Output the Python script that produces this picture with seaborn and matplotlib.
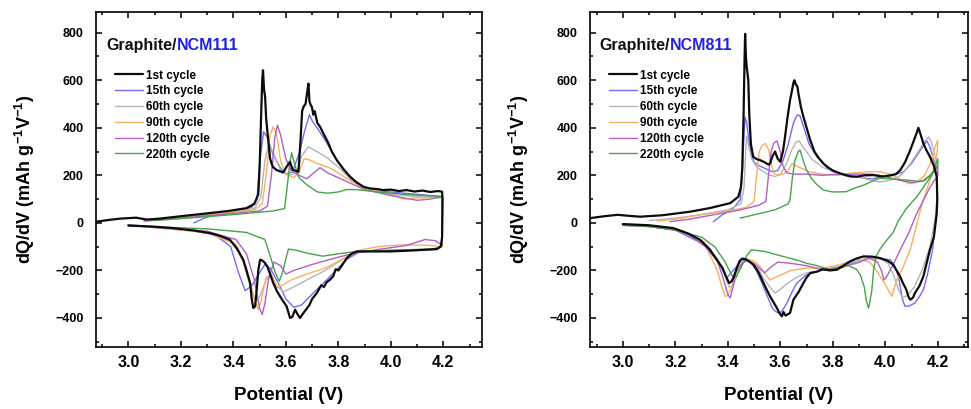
import matplotlib
matplotlib.use("Agg")
import matplotlib.pyplot as plt
from matplotlib.ticker import MultipleLocator
import seaborn as sns

# cycle labels + colours used in both panels
cycles = ["1st cycle", "15th cycle", "60th cycle", "90th cycle", "120th cycle", "220th cycle"]
colors = ["#0c0c0c", "#6e6ef0", "#b5b5b5", "#f6b062", "#b35fc4", "#48a348"]
widths = [1.6, 1.0, 1.0, 1.0, 1.0, 1.0]

x_ticks = [3.0, 3.2, 3.4, 3.6, 3.8, 4.0, 4.2]
y_ticks = [-400, -200, 0, 200, 400, 600, 800]

# ---------------- Graphite/NCM111 (charge then discharge) ----------------
v111_1st = [2.877, 2.93, 2.97, 3.0, 3.03, 3.07, 3.12, 3.2, 3.3, 3.38, 3.45, 3.48, 3.495, 3.50, 3.505, 3.51, 3.513,
            3.517, 3.521, 3.525, 3.53, 3.54, 3.55, 3.565, 3.59, 3.605, 3.616, 3.625, 3.635, 3.648, 3.655, 3.662,
            3.667, 3.675, 3.68, 3.686, 3.69, 3.695, 3.699, 3.705, 3.71, 3.72, 3.73, 3.743, 3.76, 3.775, 3.794,
            3.82, 3.845, 3.87, 3.895, 3.92, 3.95, 3.97, 4.0, 4.03, 4.06, 4.09, 4.12, 4.15, 4.18, 4.195,
            4.197, 4.195, 4.19, 4.175, 4.1, 4.0, 3.93, 3.87, 3.85, 3.832, 3.81, 3.8, 3.79, 3.78, 3.768, 3.755,
            3.745, 3.735, 3.718, 3.70, 3.69, 3.68, 3.667, 3.66, 3.654, 3.645, 3.635, 3.625, 3.616, 3.603, 3.59,
            3.578, 3.565, 3.552, 3.54, 3.53, 3.521, 3.51, 3.502, 3.495, 3.489, 3.483, 3.476, 3.47, 3.464, 3.45,
            3.438, 3.415, 3.387, 3.35, 3.311, 3.25, 3.171, 3.1, 3.0]
q111_1st = [5, 13, 18, 20, 22, 14, 18, 28, 40, 50, 62, 80, 120, 230, 420, 600, 642,
            560, 530, 440, 380, 270, 236, 222, 212, 240, 257, 225, 220, 215, 330, 470,
            488, 500, 540, 586, 510, 495, 488, 455, 470, 420, 405, 376, 340, 300, 264,
            225, 194, 170, 152, 145, 142, 138, 140, 134, 138, 132, 136, 130, 134, 131,
            100, -60, -100, -110, -115, -120, -120, -120, -130, -148, -185, -200, -195, -225, -239, -250,
            -270, -262, -295, -320, -345, -360, -379, -390, -400, -385, -365, -395, -400, -351, -330,
            -309, -285, -253, -215, -185, -169, -158, -155, -200, -281, -351, -358, -320, -253, -200,
            -155, -110, -71, -55, -43, -32, -22, -16, -11]

v111_15th = [3.25, 3.3, 3.4, 3.47, 3.49, 3.50, 3.515, 3.53, 3.55, 3.58, 3.60, 3.625, 3.65, 3.67, 3.69, 3.70,
             3.74, 3.80, 3.85, 3.90, 3.95, 4.05, 4.15, 4.195,
             4.195, 4.17, 4.0, 3.88, 3.83, 3.76, 3.70, 3.66, 3.63, 3.60, 3.57, 3.54, 3.52, 3.50, 3.47, 3.445,
             3.42, 3.39, 3.33, 3.2, 3.0]
q111_15th = [0, 25, 45, 65, 100, 250, 383, 360, 290, 230, 205, 215, 290, 380, 455, 430,
             365, 255, 185, 150, 135, 125, 115, 112,
             -95, -112, -118, -122, -155, -235, -300, -345, -355, -320, -250, -190, -175, -210, -265, -285,
             -210, -100, -50, -25, -8]

v111_60th = [3.06, 3.2, 3.35, 3.48, 3.505, 3.52, 3.535, 3.55, 3.58, 3.61, 3.64, 3.66, 3.685, 3.71, 3.75, 3.8,
             3.85, 3.9, 4.0, 4.1, 4.195,
             4.195, 4.16, 4.0, 3.88, 3.82, 3.75, 3.68, 3.62, 3.59, 3.565, 3.545, 3.525, 3.50, 3.485, 3.47,
             3.44, 3.40, 3.3, 3.0]
q111_60th = [8, 22, 40, 60, 110, 260, 335, 300, 220, 200, 210, 280, 320, 305, 280, 235,
             180, 150, 120, 110, 105,
             -95, -110, -115, -120, -150, -200, -240, -275, -290, -265, -220, -240, -310, -330, -290,
             -170, -85, -40, -10]

v111_90th = [3.06, 3.2, 3.35, 3.48, 3.51, 3.525, 3.54, 3.552, 3.565, 3.58, 3.60, 3.63, 3.65, 3.67, 3.69, 3.72,
             3.77, 3.85, 3.9, 4.0, 4.05, 4.1, 4.195,
             4.195, 4.15, 4.05, 3.95, 3.88, 3.82, 3.75, 3.68, 3.62, 3.59, 3.565, 3.545, 3.525, 3.505, 3.495,
             3.48, 3.45, 3.41, 3.3, 3.0]
q111_90th = [8, 20, 38, 55, 80, 200, 370, 404, 370, 260, 205, 190, 215, 270, 265, 250,
             230, 175, 145, 120, 100, 105, 108,
             -100, -95, -92, -100, -115, -150, -190, -215, -240, -260, -270, -215, -230, -330, -365,
             -320, -190, -90, -40, -10]

v111_120th = [3.06, 3.2, 3.35, 3.5, 3.53, 3.545, 3.558, 3.568, 3.58, 3.60, 3.62, 3.65, 3.68, 3.70, 3.73, 3.76,
              3.80, 3.85, 3.9, 4.0, 4.1, 4.15, 4.195,
              4.195, 4.17, 4.13, 4.06, 3.95, 3.85, 3.78, 3.70, 3.63, 3.60, 3.58, 3.555, 3.535, 3.52, 3.51,
              3.50, 3.48, 3.45, 3.41, 3.3, 3.0]
q111_120th = [8, 20, 35, 50, 70, 200, 360, 411, 370, 270, 220, 200, 185, 205, 232, 210,
              190, 165, 140, 115, 95, 100, 110,
              -95, -75, -70, -95, -112, -130, -150, -175, -200, -215, -180, -165, -230, -340, -385,
              -360, -240, -130, -70, -35, -10]

v111_220th = [3.1, 3.25, 3.4, 3.55, 3.595, 3.605, 3.615, 3.622, 3.635, 3.65, 3.68, 3.72, 3.76, 3.80, 3.83, 3.87,
              3.95, 4.05, 4.195,
              4.195, 4.17, 4.0, 3.87, 3.80, 3.74, 3.68, 3.64, 3.61, 3.60, 3.59, 3.575, 3.56, 3.545, 3.52,
              3.45, 3.3, 3.0]
q111_220th = [10, 22, 35, 50, 60, 150, 250, 295, 240, 190, 160, 130, 125, 130, 140, 140,
              130, 120, 110,
              -95, -110, -115, -120, -130, -140, -127, -115, -110, -150, -200, -245, -210, -155, -70,
              -40, -25, -12]

# ---------------- Graphite/NCM811 (charge then discharge) ----------------
v811_1st = [2.875, 2.93, 2.98, 3.02, 3.066, 3.15, 3.256, 3.33, 3.409, 3.44, 3.45, 3.455, 3.46, 3.464, 3.466,
            3.469, 3.472, 3.478, 3.482, 3.488, 3.497, 3.51, 3.523, 3.54, 3.555, 3.561, 3.57, 3.58, 3.59, 3.6,
            3.61, 3.618, 3.627, 3.637, 3.645, 3.65, 3.654, 3.66, 3.665, 3.669, 3.678, 3.688, 3.70, 3.714, 3.73,
            3.745, 3.764, 3.78, 3.80, 3.828, 3.85, 3.87, 3.891, 3.92, 3.955, 3.99, 4.02, 4.04, 4.057, 4.075,
            4.095, 4.11, 4.12, 4.126, 4.135, 4.145, 4.157, 4.17, 4.185, 4.196,
            4.198, 4.196, 4.185, 4.17, 4.155, 4.145, 4.13, 4.113, 4.105, 4.095, 4.088, 4.08, 4.068, 4.056,
            4.043, 4.03, 4.01, 3.98, 3.95, 3.917, 3.89, 3.866, 3.84, 3.815, 3.79, 3.76, 3.74, 3.714, 3.70,
            3.688, 3.67, 3.65, 3.637, 3.628, 3.62, 3.612, 3.606, 3.597, 3.587, 3.575, 3.561, 3.55, 3.536,
            3.52, 3.51, 3.497, 3.485, 3.472, 3.455, 3.445, 3.434, 3.425, 3.415, 3.405, 3.395, 3.38, 3.358,
            3.33, 3.294, 3.25, 3.193, 3.1, 3.0]
q811_1st = [20, 28, 34, 30, 26, 32, 47, 62, 83, 110, 150, 230, 450, 700, 795,
            700, 656, 600, 450, 330, 278, 268, 264, 255, 245, 250, 280, 300, 270, 257,
            300, 362, 440, 516, 560, 590, 600, 580, 575, 544, 490, 446, 400, 348, 300,
            275, 250, 235, 220, 208, 200, 195, 194, 200, 201, 195, 200, 205, 222, 255,
            306, 350, 380, 400, 370, 334, 305, 278, 240, 194,
            100, 41, -60, -113, -180, -225, -265, -295, -315, -323, -310, -281, -255, -225,
            -200, -176, -160, -148, -142, -141, -150, -162, -180, -197, -200, -195, -205, -211, -230,
            -253, -290, -323, -379, -385, -390, -375, -393, -380, -358, -335, -309, -285, -253,
            -215, -195, -176, -165, -155, -150, -160, -190, -220, -245, -253, -230, -190, -155,
            -110, -71, -45, -22, -10, -5]

v811_15th = [3.345, 3.38, 3.42, 3.447, 3.455, 3.462, 3.466, 3.472, 3.48, 3.49, 3.50, 3.52, 3.55, 3.57, 3.59,
             3.61, 3.63, 3.65, 3.665, 3.675, 3.69, 3.71, 3.739, 3.78, 3.828, 3.87, 3.91, 3.95, 3.99, 4.03,
             4.07, 4.10, 4.13, 4.158, 4.17, 4.185, 4.196,
             4.198, 4.19, 4.18, 4.16, 4.145, 4.13, 4.113, 4.09, 4.075, 4.065, 4.05, 4.035, 4.02, 3.97, 3.93,
             3.89, 3.86, 3.83, 3.76, 3.70, 3.663, 3.645, 3.625, 3.61, 3.6, 3.585, 3.57, 3.555, 3.54, 3.515,
             3.49, 3.47, 3.455, 3.44, 3.42, 3.396, 3.38, 3.36, 3.33, 3.29, 3.2, 3.1, 3.0]
q811_15th = [5, 35, 60, 97, 200, 380, 445, 420, 350, 290, 255, 240, 225, 215, 220,
             260, 330, 420, 455, 450, 400, 330, 278, 230, 208, 200, 190, 185, 195, 200,
             215, 250, 300, 345, 320, 260, 200,
             97, 0, -113, -220, -281, -310, -337, -350, -351, -320, -225, -180, -155, -148, -150,
             -162, -175, -190, -197, -218, -253, -290, -337, -365, -379, -375, -360, -320, -280, -215,
             -165, -150, -155, -175, -200, -232, -200, -155, -110, -80, -30, -15, -10]

v811_60th = [3.10, 3.2, 3.3, 3.4, 3.45, 3.462, 3.468, 3.472, 3.48, 3.49, 3.51, 3.55, 3.58, 3.60, 3.62, 3.645,
             3.66, 3.672, 3.685, 3.70, 3.72, 3.76, 3.80, 3.85, 3.90, 3.94, 3.98, 4.02, 4.06, 4.09, 4.12,
             4.145, 4.164, 4.175, 4.19, 4.198,
             4.198, 4.19, 4.17, 4.14, 4.11, 4.085, 4.065, 4.05, 4.03, 4.01, 3.98, 3.93, 3.88, 3.82, 3.76,
             3.70, 3.66, 3.62, 3.60, 3.58, 3.56, 3.54, 3.52, 3.49, 3.47, 3.455, 3.435, 3.42, 3.405, 3.385,
             3.36, 3.32, 3.25, 3.15, 3.0]
q811_60th = [10, 20, 35, 55, 80, 150, 300, 365, 320, 270, 235, 205, 195, 205, 240, 310,
             340, 345, 320, 300, 268, 235, 215, 200, 195, 180, 172, 180, 200, 240, 290,
             335, 362, 340, 280, 220,
             120, 20, -100, -200, -270, -305, -315, -280, -215, -170, -150, -150, -165, -185, -200,
             -210, -230, -260, -280, -295, -270, -240, -200, -160, -150, -165, -220, -265, -270, -210,
             -150, -95, -45, -20, -8]

v811_90th = [3.13, 3.2, 3.3, 3.4, 3.47, 3.50, 3.51, 3.52, 3.53, 3.542, 3.555, 3.565, 3.575, 3.59, 3.61, 3.63,
             3.645, 3.66, 3.68, 3.71, 3.76, 3.82, 3.88, 3.94, 3.98, 4.02, 4.06, 4.09, 4.12, 4.15, 4.175,
             4.19, 4.2,
             4.198, 4.185, 4.17, 4.14, 4.095, 4.07, 4.044, 4.03, 4.025, 4.015, 3.99, 3.98, 3.96, 3.94, 3.89,
             3.83, 3.76, 3.70, 3.64, 3.59, 3.56, 3.54, 3.52, 3.50, 3.47, 3.45, 3.43, 3.415, 3.40, 3.39,
             3.375, 3.36, 3.33, 3.31, 3.25, 3.2, 3.1, 3.0]
q811_90th = [8, 15, 35, 50, 65, 90, 200, 300, 325, 334, 310, 250, 210, 200, 205, 220,
             250, 240, 230, 215, 205, 200, 210, 215, 215, 205, 180, 165, 170, 200, 260,
             320, 348,
             300, 220, 180, 80, -113, -180, -239, -290, -309, -290, -240, -225, -190, -165, -150,
             -175, -190, -190, -200, -225, -240, -210, -180, -160, -155, -175, -210, -270, -305, -309,
             -260, -200, -130, -80, -45, -25, -12, -8]

v811_120th = [3.18, 3.25, 3.35, 3.45, 3.52, 3.545, 3.555, 3.565, 3.575, 3.587, 3.60, 3.61, 3.625, 3.65, 3.70,
              3.76, 3.82, 3.88, 3.95, 4.0, 4.05, 4.1, 4.14, 4.17, 4.2,
              4.2, 4.17, 4.12, 4.09, 4.057, 4.03, 4.006, 3.995, 3.985, 3.97, 3.94, 3.89, 3.83, 3.76, 3.70,
              3.64, 3.59, 3.56, 3.54, 3.52, 3.50, 3.47, 3.45, 3.43, 3.42, 3.409, 3.40, 3.38, 3.36, 3.31,
              3.25, 3.2, 3.1, 3.0]
q811_120th = [5, 15, 35, 55, 75, 90, 200, 300, 335, 345, 300, 240, 210, 205, 205,
              200, 205, 205, 205, 195, 180, 170, 175, 200, 240,
              200, 150, 40, -40, -113, -175, -225, -240, -200, -165, -148, -170, -185, -197, -180,
              -170, -165, -190, -210, -190, -170, -160, -175, -210, -270, -316, -300, -225, -160, -95,
              -50, -30, -15, -10]

v811_220th = [3.447, 3.5, 3.58, 3.63, 3.637, 3.645, 3.655, 3.668, 3.675, 3.688, 3.70, 3.72, 3.74, 3.764, 3.80,
              3.85, 3.88, 3.92, 3.96, 3.98, 4.03, 4.08, 4.12, 4.15, 4.18, 4.2,
              4.2, 4.17, 4.145, 4.12, 4.08, 4.05, 4.03, 4.0, 3.98, 3.965, 3.955, 3.949, 3.94, 3.936, 3.928,
              3.92, 3.905, 3.89, 3.86, 3.82, 3.79, 3.74, 3.70, 3.66, 3.61, 3.54, 3.49, 3.47, 3.45, 3.43,
              3.415, 3.39, 3.35, 3.3, 3.2, 3.1, 3.0]
q811_220th = [20, 34, 55, 80, 97, 180, 260, 300, 306, 260, 222, 185, 160, 138, 130,
              131, 145, 160, 180, 188, 185, 180, 175, 178, 210, 270,
              240, 190, 150, 110, 60, 10, -40, -80, -110, -140, -200, -281, -340, -358, -330,
              -270, -220, -195, -180, -190, -197, -180, -170, -155, -141, -120, -113, -141, -190, -230,
              -220, -165, -100, -60, -30, -15, -10]

panels = [
    ("NCM111", [v111_1st, v111_15th, v111_60th, v111_90th, v111_120th, v111_220th],
     [q111_1st, q111_15th, q111_60th, q111_90th, q111_120th, q111_220th]),
    ("NCM811", [v811_1st, v811_15th, v811_60th, v811_90th, v811_120th, v811_220th],
     [q811_1st, q811_15th, q811_60th, q811_90th, q811_120th, q811_220th]),
]

sns.set_style("ticks")
plt.rcParams["font.family"] = ["Liberation Sans", "DejaVu Sans"]
plt.rcParams["font.weight"] = "bold"
plt.rcParams["mathtext.fontset"] = "custom"
plt.rcParams["mathtext.rm"] = "Liberation Sans:bold"
plt.rcParams["mathtext.default"] = "rm"
plt.rcParams["axes.linewidth"] = 1.2
plt.rcParams["axes.edgecolor"] = "black"
plt.rcParams["xtick.color"] = "black"
plt.rcParams["ytick.color"] = "black"
plt.rcParams["text.color"] = "black"
plt.rcParams["axes.labelcolor"] = "black"

fig = plt.figure(figsize=(9.71, 4.09), dpi=100)
ax_left = fig.add_axes([96 / 971, 62 / 409, 386 / 971, 335 / 409])
ax_right = fig.add_axes([590 / 971, 62 / 409, 378 / 971, 335 / 409])
x_limits = [(2.877, 4.347), (2.875, 4.315)]

for ax, (name, vs, qs), xlim in zip([ax_left, ax_right], panels, x_limits):
    for lab, col, lw, v, q in zip(cycles, colors, widths, vs, qs):
        sns.lineplot(x=v, y=q, sort=False, estimator=None, color=col, lw=lw, label=lab, ax=ax)
    # black 1st cycle sits on top of the others
    ax.lines[0].set_zorder(5)

    ax.set_xlim(*xlim)
    ax.set_ylim(-522, 887)
    ax.set_xticks(x_ticks)
    ax.set_xticklabels([f"{t:.1f}" for t in x_ticks])
    ax.set_yticks(y_ticks)
    ax.xaxis.set_minor_locator(MultipleLocator(0.1))
    ax.yaxis.set_minor_locator(MultipleLocator(100))
    ax.tick_params(which="both", direction="in", top=True, right=True, width=1.1)
    ax.tick_params(which="major", length=4.5)
    ax.tick_params(which="minor", length=2.5)
    ax.tick_params(axis="x", labelsize=11.5, pad=6)
    ax.tick_params(axis="y", labelsize=9, pad=9)

    ax.set_xlabel("Potential (V)", fontsize=13.5, fontweight="bold", labelpad=12)
    ax.set_ylabel("dQ/dV (mAh g$^{-1}$V$^{-1}$)", fontsize=13, fontweight="bold", labelpad=13)

    t = ax.text(0.026, 0.887, "Graphite/", transform=ax.transAxes, fontsize=11.5,
                fontweight="bold", va="baseline", color="#111111")
    ax.annotate(name, xy=(1, 0), xycoords=t, va="bottom", ha="left", fontsize=11.5,
                fontweight="bold", color="#2222dd")

    ax.legend(loc="upper left", bbox_to_anchor=(0.049, 0.828), frameon=False, borderpad=0,
              borderaxespad=0, handlelength=2.4, handletextpad=0.25, labelspacing=0.32,
              prop={"weight": "bold", "size": 8.5})

fig.savefig("out.png", dpi=100)
